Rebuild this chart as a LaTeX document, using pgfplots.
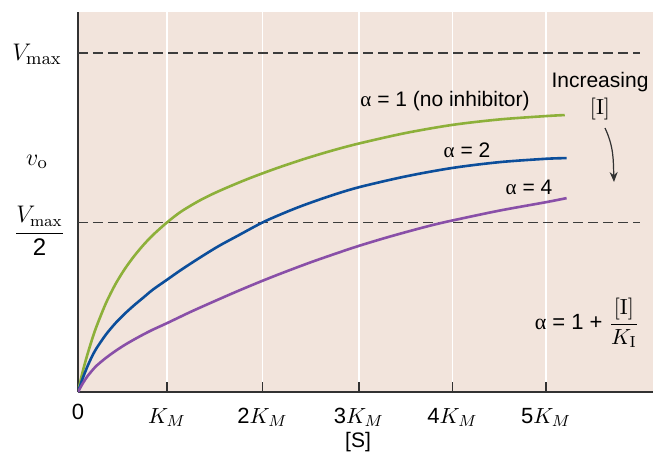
\documentclass[border=0pt]{standalone}
\usepackage{pgfplots}
\pgfplotsset{compat=1.18}
\usepackage[no-math]{fontspec}
\setmainfont{Liberation Sans}
\newfontfamily\seriffont{Liberation Serif}
\usetikzlibrary{arrows.meta}
\definecolor{bgc}{RGB}{242,228,220}
\definecolor{cgreen}{RGB}{141,176,58}
\definecolor{cblue}{RGB}{12,78,155}
\definecolor{cpurple}{RGB}{137,79,168}
\definecolor{cdash}{RGB}{60,60,60}
\definecolor{caxis}{RGB}{50,50,50}
\begin{document}
\begin{tikzpicture}[x=1pt,y=1pt]
\begin{axis}[
  at={(39pt,30pt)}, anchor=south west,
  scale only axis, width=287.5pt, height=190pt,
  xmin=0, xmax=6.143, ymin=0, ymax=1.121,
  axis lines=left,
  axis line style={-, caxis, line width=0.9pt},
  xtick={0.95,1.97,3,4,5},
  xticklabels={$K_M$,2$K_M$,3$K_M$,4$K_M$,5$K_M$},
  ytick=\empty,
  tick align=inside, major tick length=5pt,
  tick style={caxis, line width=0.7pt},
  xmajorgrids, grid style={white, line width=0.7pt},
  axis background/.style={fill=bgc},
  xticklabel style={font=\fontsize{11}{13}\selectfont, anchor=base, yshift=-15.5pt},
]
\addplot[cdash, line width=0.8pt, dash pattern=on 5pt off 2.5pt] coordinates {(0,1) (6.0,1)};
\addplot[cdash, line width=0.8pt, dash pattern=on 5pt off 2.5pt] coordinates {(0,0.5) (6.0,0.5)};
\addplot[cgreen, line width=1.3pt, smooth] coordinates {
(0,0) (0.05,0.06) (0.1,0.11) (0.15,0.155) (0.2,0.195) (0.3,0.263) (0.4,0.318) (0.5,0.363) (0.6,0.401) (0.7,0.434) (0.8,0.463) (0.95,0.5) (1.1,0.532) (1.3,0.565) (1.5,0.592) (1.8,0.627) (2.1,0.658) (2.4,0.686) (2.7,0.711) (3.0,0.733) (3.5,0.764) (4.0,0.788) (4.5,0.804) (5.0,0.814) (5.2,0.817)};
\addplot[cblue, line width=1.3pt, smooth] coordinates {
(0,0) (0.05,0.04) (0.1,0.075) (0.15,0.105) (0.2,0.13) (0.3,0.17) (0.4,0.203) (0.5,0.231) (0.6,0.256) (0.7,0.279) (0.8,0.302) (0.95,0.331) (1.1,0.36) (1.3,0.396) (1.5,0.43) (1.7,0.46) (1.97,0.5) (2.2,0.528) (2.41,0.551) (2.7,0.579) (3.0,0.604) (3.5,0.636) (4.0,0.661) (4.5,0.678) (5.0,0.688) (5.22,0.69)};
\addplot[cpurple, line width=1.3pt, smooth] coordinates {
(0,0) (0.05,0.025) (0.1,0.046) (0.15,0.063) (0.2,0.078) (0.3,0.101) (0.4,0.121) (0.5,0.139) (0.6,0.155) (0.7,0.17) (0.8,0.184) (0.95,0.203) (1.2,0.236) (1.41,0.262) (1.7,0.297) (1.97,0.328) (2.2,0.353) (2.48,0.382) (2.75,0.408) (3.0,0.431) (3.3,0.456) (3.6,0.479) (3.81,0.494) (4.0,0.506) (4.5,0.535) (5.0,0.56) (5.22,0.572)};
\end{axis}
\node[font=\fontsize{10.5}{12}\selectfont] at (222.5,175.5) {{\seriffont α} = 1 (no inhibitor)};
\node[font=\fontsize{10.5}{12}\selectfont] at (233.5,151) {{\seriffont α} = 2};
\node[font=\fontsize{10.5}{12}\selectfont] at (264.5,132.5) {{\seriffont α} = 4};
\node[font=\fontsize{10.5}{12}\selectfont] at (300,185) {Increasing};
\node[font=\fontsize{11}{12}\selectfont] at (300,171.5) {$[\mathrm{I}]$};
\draw[caxis, line width=0.6pt, -{Stealth[length=5pt,width=4pt]}] (302.5,162) to[out=-65,in=92] (307,135);
\node[font=\fontsize{11}{13}\selectfont] at (293.5,64.5) {{\seriffont α} = 1 + $\displaystyle\frac{[\mathrm{I}]}{K_{\mathrm{I}}}$};
\node[font=\fontsize{13}{15}\selectfont] at (18.5,199) {$V_{\max}$};
\node[font=\fontsize{13}{15}\selectfont] at (18.5,145) {$v_{\mathrm{o}}$};
\node[font=\fontsize{12}{14}\selectfont] at (19.75,110.5) {$\displaystyle\frac{V_{\max}}{\mbox{2}}$};
\node[font=\fontsize{11}{13}\selectfont] at (39,20) {0};
\node[font=\fontsize{10.5}{12}\selectfont] at (179,5) {[S]};
\pgfresetboundingbox
\path[use as bounding box] (0,0) rectangle (326.5,226);
\end{tikzpicture}
\end{document}
